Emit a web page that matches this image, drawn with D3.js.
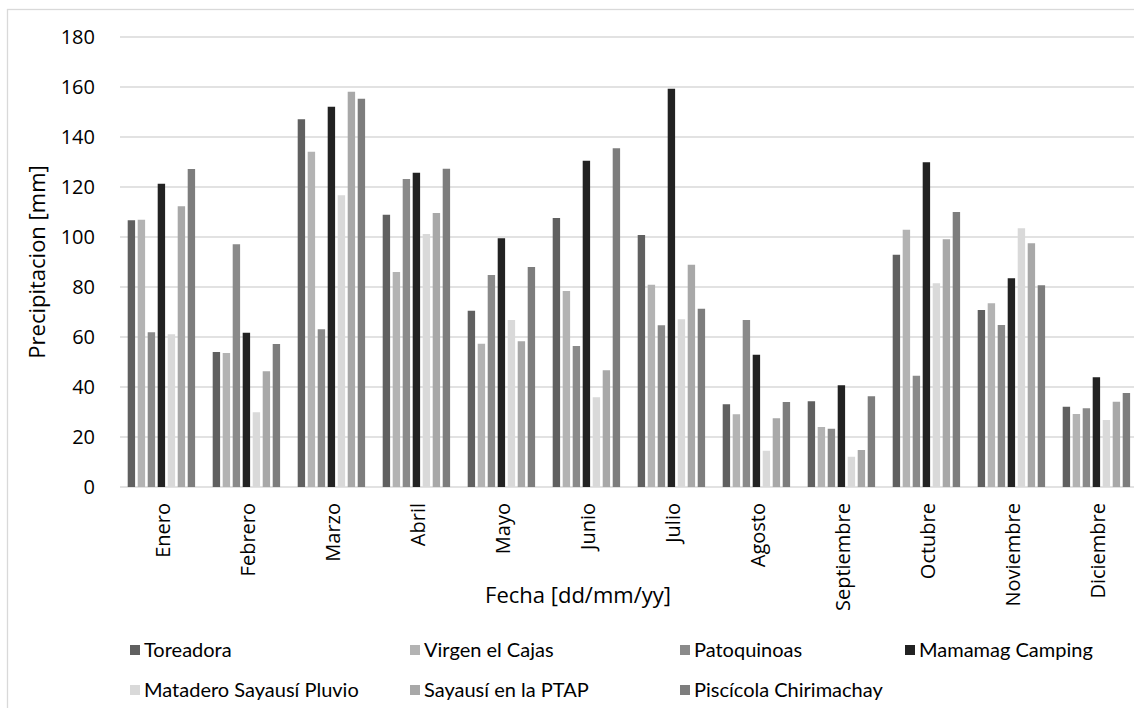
<!DOCTYPE html>
<html>
<head>
<meta charset="utf-8">
<script src="https://cdn.jsdelivr.net/npm/d3@7"></script>
<style>
  html, body { margin: 0; padding: 0; background: #fff; }
  svg { display: block; font-family: "Open Sans", Lato, sans-serif; }
</style>
</head>
<body>
<svg id="chart" width="1134" height="708"></svg>
<script>
// Monthly precipitation per station
const months = ["Enero", "Febrero", "Marzo", "Abril", "Mayo", "Junio", "Julio",
                "Agosto", "Septiembre", "Octubre", "Noviembre", "Diciembre"];

const stations = ["Toreadora", "Virgen el Cajas", "Patoquinoas", "Mamamag Camping",
                  "Matadero Sayausí Pluvio", "Sayausí en la PTAP", "Piscícola Chirimachay"];

const toreadora   = [106.7, 54.0, 147.1, 108.9, 70.5, 107.6, 100.8, 33.1, 34.3, 92.9, 70.8, 32.1];
const virgenCajas = [106.9, 53.6, 134.1, 86.0, 57.3, 78.4, 80.9, 29.1, 24.0, 102.9, 73.5, 29.2];
const patoquinoas = [61.9, 97.1, 63.1, 123.2, 84.8, 56.4, 64.7, 66.8, 23.3, 44.5, 64.8, 31.5];
const mamamag     = [121.3, 61.7, 152.1, 125.7, 99.5, 130.5, 159.3, 52.9, 40.7, 129.9, 83.5, 43.9];
const matadero    = [61.1, 29.9, 116.7, 101.2, 66.8, 35.9, 67.1, 14.5, 12.1, 81.5, 103.5, 26.8];
const sayausiPtap = [112.3, 46.3, 158.1, 109.6, 58.3, 46.7, 88.9, 27.5, 14.8, 99.1, 97.5, 34.1];
const piscicola   = [127.2, 57.2, 155.3, 127.3, 88.0, 135.5, 71.3, 34.0, 36.3, 110.0, 80.7, 37.6];

const seriesValues = [toreadora, virgenCajas, patoquinoas, mamamag, matadero, sayausiPtap, piscicola];
const yTicks = [0, 20, 40, 60, 80, 100, 120, 140, 160, 180];

const colors = ["#606060", "#b3b3b3", "#8a8a8a", "#222222", "#d9d9d9", "#a8a8a8", "#7d7d7d"];

const svg = d3.select("#chart");

// chart frame
svg.append("rect")
  .attr("x", 7.5).attr("y", 9.5)
  .attr("width", 1200).attr("height", 760)
  .attr("fill", "none").attr("stroke", "#d9d9d9").attr("stroke-width", 1.3);

const plot = { left: 120, right: 1140, top: 37, bottom: 487 };

const x0 = d3.scaleBand()
  .domain(months)
  .range([plot.left, plot.right])
  .paddingInner(15 / 85)
  .paddingOuter(7.5 / 85);

const x1 = d3.scaleBand()
  .domain(stations)
  .range([0, x0.bandwidth()]);

const y = d3.scaleLinear().domain([0, 180]).range([plot.bottom, plot.top]);

// horizontal gridlines
svg.append("g")
  .selectAll("line")
  .data(yTicks)
  .join("line")
  .attr("x1", plot.left).attr("x2", plot.right)
  .attr("y1", d => y(d)).attr("y2", d => y(d))
  .attr("stroke", "#d9d9d9").attr("stroke-width", 1.3);

// y axis labels
const yAxis = svg.append("g")
  .attr("transform", `translate(${plot.left},0)`)
  .call(d3.axisLeft(y).tickValues(yTicks).tickSize(0).tickPadding(25));
yAxis.select(".domain").remove();
yAxis.selectAll("text")
  .attr("font-size", 20).attr("fill", "#000").attr("font-family", "Open Sans");

// bars
const groups = svg.append("g")
  .selectAll("g")
  .data(months)
  .join("g")
  .attr("transform", d => `translate(${x0(d)},0)`);

groups.selectAll("rect")
  .data((m, i) => stations.map((s, k) => ({ station: s, k, value: seriesValues[k][i] })))
  .join("rect")
  .attr("x", d => x1(d.station) + 0.2)
  .attr("width", x1.bandwidth() - 2.6)
  .attr("y", d => y(d.value))
  .attr("height", d => y(0) - y(d.value))
  .attr("fill", d => colors[d.k]);

// x axis labels (vertical)
const xAxis = svg.append("g")
  .attr("transform", `translate(0,${plot.bottom})`)
  .call(d3.axisBottom(x0).tickSize(0).tickPadding(0));
xAxis.select(".domain").remove();
xAxis.selectAll("text")
  .attr("font-size", 20).attr("fill", "#000").attr("font-family", "Open Sans")
  .attr("text-anchor", "end")
  .attr("dy", "0.35em")
  .attr("transform", "translate(0,16) rotate(-90)")
  .attr("x", 0).attr("y", 0);

// axis titles
svg.append("text")
  .attr("transform", `translate(45,${(plot.top + plot.bottom) / 2}) rotate(-90)`)
  .attr("text-anchor", "middle")
  .attr("font-size", 22)
  .text("Precipitacion [mm]");

svg.append("text")
  .attr("x", 578).attr("y", 603)
  .attr("text-anchor", "middle")
  .attr("font-size", 22)
  .text("Fecha [dd/mm/yy]");

// legend
const legendCols = [130, 410, 680, 905];
const legendRows = [650, 690];
const legend = svg.append("g")
  .selectAll("g")
  .data(stations)
  .join("g")
  .attr("transform", (d, i) => `translate(${legendCols[i % 4]},${legendRows[Math.floor(i / 4)]})`);

legend.append("rect")
  .attr("x", 0).attr("y", -5).attr("width", 10).attr("height", 10)
  .attr("fill", (d, i) => colors[i]);

legend.append("text")
  .attr("x", 14).attr("y", 0).attr("dy", "0.35em")
  .attr("font-size", 20).attr("font-family", "Lato")
  .text(d => d);
</script>
</body>
</html>
